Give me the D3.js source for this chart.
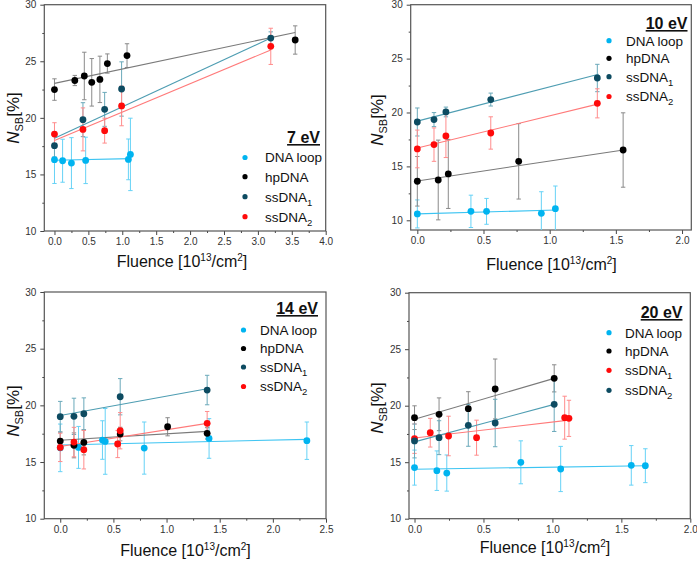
<!DOCTYPE html>
<html><head><meta charset="utf-8">
<script src="https://cdn.jsdelivr.net/npm/d3@7"></script>
<style>
html,body{margin:0;padding:0;background:#fff;}
svg{display:block;font-family:"Liberation Sans",Arial,sans-serif;}
</style></head><body>
<svg id="c" width="697" height="562"></svg>
<script>
// ---------- DATA (fluence [1e13/cm2], N_SB [%], error) ----------
const seriesNames = ["DNA loop", "hpDNA", "ssDNA", "ssDNA"];
const energyLabels = ["7 eV", "10 eV", "14 eV", "20 eV"];
const yTickValues = [10, 15, 20, 25, 30];

// 7 eV
const e7_loop = [[0,16.3,2.1],[0.12,16.21,1.9],[0.25,16.0,2.25],[0.46,16.24,2.05],[1.09,16.33,1.8],[1.12,16.77,3.2]];
const e7_hp   = [[0,22.5,0.95],[0.3,23.3,0.45],[0.44,23.7,2.1],[0.55,23.14,2.1],[0.67,23.4,2.05],[0.78,24.8,0.85],[1.07,25.5,1.05],[3.55,26.88,1.25]];
const e7_ss1  = [[0,17.54,1.0],[0.42,19.84,1.5],[0.74,20.75,1.5],[0.99,22.55,2.4],[3.19,27.05,0.55]];
const e7_ss2  = [[0,18.57,1.0],[0.42,18.98,1.9],[0.74,18.87,1.1],[0.99,21.05,1.75],[3.19,26.32,1.6]];
const e7_fit  = [[[0,16.25],[1.12,16.4]], [[0,23.05],[3.55,27.55]], [[0,18.2],[3.19,27.05]], [[0,18.0],[3.19,26.0]]];

// 10 eV
const e10_loop = [[0,10.59,1.3],[0.405,10.83,1.5],[0.523,10.83,1.2],[0.937,10.65,2.0],[1.043,11.08,2.1]];
const e10_hp   = [[0,13.62,2.3],[0.158,13.74,3.7],[0.234,14.3,3.2],[0.766,15.47,3.5],[1.555,16.52,3.45]];
const e10_ss1  = [[0,19.12,1.3],[0.126,19.34,0.65],[0.216,20.05,0.45],[0.555,21.2,0.6],[1.36,23.2,1.27]];
const e10_ss2  = [[0,16.62,1.75],[0.126,17.02,1.55],[0.216,17.82,2.0],[0.555,18.1,1.5],[1.36,20.85,1.35]];
const e10_fit  = [[[0,10.6],[1.05,10.95]], [[0,13.65],[1.57,16.55]], [[0,19.2],[1.37,23.55]], [[0,16.7],[1.37,20.8]]];

// 14 eV
const e14_loop = [[0,16.25,2.1],[0.172,16.29,1.85],[0.397,16.94,1.7],[0.423,16.82,2.9],[0.79,16.23,2.3],[1.40,17.08,1.75],[2.32,16.88,1.65]];
const e14_hp   = [[0,16.85,0.8],[0.129,16.47,1.1],[0.222,16.73,1.1],[0.564,17.47,0.6],[1.01,18.11,0.8],[1.382,17.53,0.5]];
const e14_ss1  = [[0,19.0,1.35],[0.129,19.03,1.6],[0.222,19.26,1.4],[0.564,20.76,1.6],[1.382,21.35,1.3]];
const e14_ss2  = [[0,16.29,1.25],[0.129,16.76,1.3],[0.222,16.09,1.7],[0.54,16.59,1.2],[0.564,17.76,1.6],[1.382,18.41,1.05]];
const e14_fit  = [[[0,16.5],[2.32,17.0]], [[0,16.92],[1.382,17.7]], [[0,19.1],[1.382,21.46]], [[0,16.37],[1.382,18.41]]];

// 20 eV (legend: ssDNA1 = red, ssDNA2 = teal)
const e20_loop = [[0,14.52,1.55],[0.162,14.25,1.75],[0.234,14.04,1.6],[0.771,14.99,1.9],[1.06,14.4,2.0],[1.572,14.72,1.75],[1.674,14.69,1.5]];
const e20_hp   = [[0,18.94,1.05],[0.178,19.24,1.45],[0.39,19.74,1.5],[0.585,21.48,2.65],[1.013,22.42,1.2]];
const e20_ss1  = [[0,17.08,1.3],[0.114,17.61,1.27],[0.247,17.32,1.75],[0.45,17.17,1.55],[1.089,18.94,1.9],[1.12,18.88,1.6]];
const e20_ss2  = [[0,16.88,1.5],[0.178,17.17,1.5],[0.39,18.26,1.85],[0.585,18.47,2.1],[1.013,20.12,2.4]];
const e20_fit  = [[[0,14.38],[1.674,14.68]], [[0,18.8],[1.013,22.42]], [[0,17.14],[1.12,18.72]], [[0,16.8],[1.013,20.12]]];

// ---------- STYLE ----------
const C = {
  loop: {dot:"#00b4f0", line:"#3cc4f2", err:"#66d2f6"},
  hp:   {dot:"#000000", line:"#7a7a7a", err:"#8a8a8a"},
  teal: {dot:"#0d4b61", line:"#4e9db2", err:"#6aa9ba"},
  red:  {dot:"#ff0a0a", line:"#ff7a7a", err:"#ff8c8c"}
};

const panels = [
  {label:energyLabels[0], series:[e7_loop,e7_hp,e7_ss1,e7_ss2], fit:e7_fit, cols:[C.loop,C.hp,C.teal,C.red],
   xd:[-0.15,4.0], xmax:4.0, yd:[10,30], box:[44.3,325.7,4.7,231],
   leg:{titleX:320, titleY:143, dotX:245, textX:265, ys:[157.5,176.7,196.7,216.7]},
   xt:{x:182, y:267}, yt:{x:13, y:118}},
  {label:energyLabels[1], series:[e10_loop,e10_hp,e10_ss1,e10_ss2], fit:e10_fit, cols:[C.loop,C.hp,C.teal,C.red],
   xd:[-0.05,2.07], xmax:2.0, yd:[9.1,30], box:[410.7,691.3,4.7,230],
   leg:{titleX:687.5, titleY:29, dotX:609, textX:626, ys:[40.7,58.3,76.7,96.5]},
   xt:{x:551.5, y:270}, yt:{x:377, y:120}},
  {label:energyLabels[2], series:[e14_loop,e14_hp,e14_ss1,e14_ss2], fit:e14_fit, cols:[C.loop,C.hp,C.teal,C.red],
   xd:[-0.15,2.5], xmax:2.5, yd:[10,30], box:[44.3,326,292,518.7],
   leg:{titleX:318, titleY:314, dotX:243.5, textX:260, ys:[330,348.5,367,386.5]},
   xt:{x:185.5, y:556}, yt:{x:13, y:411}},
  {label:energyLabels[3], series:[e20_loop,e20_hp,e20_ss1,e20_ss2], fit:e20_fit, cols:[C.loop,C.hp,C.red,C.teal],
   xd:[-0.04,2.0], xmax:2.0, yd:[10,30], box:[409,690.3,292.7,518.7],
   leg:{titleX:682.5, titleY:318, dotX:609, textX:625, ys:[332.7,351,370.3,390.3]},
   xt:{x:545, y:553}, yt:{x:377, y:408}}
];
const subs = [null, null, "1", "2"];

const svg = d3.select("#c");

panels.forEach(p => {
  const [l, r, t, b] = p.box;
  const x = d3.scaleLinear().domain(p.xd).range([l, r]);
  const y = d3.scaleLinear().domain(p.yd).range([b, t]);
  const g = svg.append("g");

  // major/minor ticks
  const xMajor = d3.range(0, p.xmax + 1e-9, 0.5);
  const xMinor = d3.range(0.25, p.xmax, 0.5);
  const yMinor = d3.range(12.5, 30, 5);

  const ax = g.append("g").attr("transform", `translate(0,${b})`)
    .call(d3.axisBottom(x).tickValues(xMajor).tickFormat(d3.format(".1f")).tickSize(4).tickPadding(3));
  g.append("g").attr("transform", `translate(0,${b})`)
    .call(d3.axisBottom(x).tickValues(xMinor).tickFormat("").tickSize(2));
  const ay = g.append("g").attr("transform", `translate(${l},0)`)
    .call(d3.axisLeft(y).tickValues(yTickValues).tickFormat(d3.format("d")).tickSize(4).tickPadding(4));
  g.append("g").attr("transform", `translate(${l},0)`)
    .call(d3.axisLeft(y).tickValues(yMinor).tickFormat("").tickSize(2));
  g.selectAll(".domain").remove();
  g.selectAll(".tick line").attr("stroke", "#444");
  g.selectAll(".tick text").attr("fill", "#333").style("font-size", "10px")
    .style("font-family", "'Liberation Sans',Arial,sans-serif");

  // frame
  g.append("rect").attr("x", l).attr("y", t).attr("width", r - l).attr("height", b - t)
    .attr("fill", "none").attr("stroke", "#555").attr("stroke-width", 1.2);

  const clipId = "clip" + p.label.replace(/\s/g, "");
  svg.append("clipPath").attr("id", clipId).append("rect")
    .attr("x", l).attr("y", t).attr("width", r - l).attr("height", b - t);
  const plot = g.append("g").attr("clip-path", `url(#${clipId})`);

  p.series.forEach((data, i) => {
    const col = p.cols[i];
    // error bars
    const eb = plot.append("g").attr("stroke", col.err).attr("stroke-width", 1).attr("fill", "none");
    data.forEach(d => {
      const cx = x(d[0]), y1 = y(d[1] + d[2]), y2 = y(d[1] - d[2]);
      eb.append("line").attr("x1", cx).attr("x2", cx).attr("y1", y1).attr("y2", y2);
      eb.append("line").attr("x1", cx - 2.2).attr("x2", cx + 2.2).attr("y1", y1).attr("y2", y1);
      eb.append("line").attr("x1", cx - 2.2).attr("x2", cx + 2.2).attr("y1", y2).attr("y2", y2);
    });
  });
  p.series.forEach((data, i) => {
    const col = p.cols[i];
    const f = p.fit[i];
    plot.append("line").attr("x1", x(f[0][0])).attr("y1", y(f[0][1]))
      .attr("x2", x(f[1][0])).attr("y2", y(f[1][1]))
      .attr("stroke", col.line).attr("stroke-width", 1.1);
  });
  p.series.forEach((data, i) => {
    const col = p.cols[i];
    plot.selectAll(null).data(data).enter().append("circle")
      .attr("cx", d => x(d[0])).attr("cy", d => y(d[1])).attr("r", 3.4)
      .attr("fill", col.dot);
  });

  // legend
  const L = p.leg;
  g.append("text").attr("x", L.titleX).attr("y", L.titleY).attr("text-anchor", "end")
    .style("font-size", "16px").style("font-weight", "bold").attr("fill", "#111")
    .style("text-decoration", "underline").text(p.label);
  seriesNames.forEach((nm, i) => {
    const yy = L.ys[i];
    g.append("circle").attr("cx", L.dotX).attr("cy", yy).attr("r", 2.6).attr("fill", p.cols[i].dot);
    const tx = g.append("text").attr("x", L.textX).attr("y", yy + 4.8)
      .style("font-size", "13.5px").attr("fill", "#111").text(nm);
    if (subs[i]) tx.append("tspan").attr("dy", 4).style("font-size", "9.5px").text(subs[i]);
  });

  // x title
  const xt = g.append("text").attr("x", p.xt.x).attr("y", p.xt.y).attr("text-anchor", "middle")
    .style("font-size", "16px").attr("fill", "#111");
  xt.append("tspan").text("Fluence [10");
  xt.append("tspan").attr("dy", -6).style("font-size", "10px").text("13");
  xt.append("tspan").attr("dy", 6).text("/cm");
  xt.append("tspan").attr("dy", -6).style("font-size", "10px").text("2");
  xt.append("tspan").attr("dy", 6).text("]");

  // y title
  const yt = g.append("text").attr("transform", `translate(${p.yt.x + 6},${p.yt.y}) rotate(-90)`)
    .attr("text-anchor", "middle").style("font-size", "17px").attr("fill", "#111");
  yt.append("tspan").style("font-style", "italic").text("N");
  yt.append("tspan").attr("dy", 4).style("font-size", "11px").text("SB");
  yt.append("tspan").attr("dy", -4).text("[%]");
});
</script>
</body></html>
